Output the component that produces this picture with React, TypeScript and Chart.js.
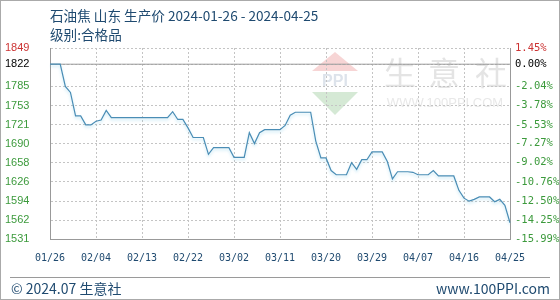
import React, { useEffect, useRef } from 'react';
import { Chart, registerables } from 'chart.js';

Chart.register(...registerables);

// ---- data ----
const startDate = '2024-01-26';
const prices = [
  1822, 1822, 1822, 1785, 1775, 1736, 1736, 1721, 1721, 1727,
  1729, 1745, 1733, 1733, 1733, 1733, 1733, 1733, 1733, 1733,
  1733, 1733, 1733, 1733, 1743, 1730, 1730, 1716, 1700, 1700,
  1700, 1672, 1683, 1683, 1683, 1683, 1667, 1667, 1667, 1708,
  1690, 1708, 1713, 1713, 1713, 1713, 1720, 1737, 1742, 1742,
  1742, 1742, 1694, 1666, 1666, 1645, 1638, 1638, 1638, 1658,
  1647, 1663, 1663, 1676, 1676, 1676, 1660, 1631, 1643, 1643,
  1643, 1642, 1638, 1638, 1638, 1645, 1636, 1636, 1636, 1636,
  1612, 1599, 1594, 1597, 1601, 1601, 1601, 1593, 1597, 1587,
  1558,
];
const basePrice = 1822;
const axisMin = 1531;
const axisMax = 1849;
const leftTickValues = [1849, 1822, 1785, 1753, 1721, 1690, 1658, 1626, 1594, 1562, 1531];
const rightTickLabels = ['1.45%', '0.00%', '-2.04%', '-3.78%', '-5.53%', '-7.27%', '-9.02%', '-10.76%', '-12.50%', '-14.25%', '-15.99%'];
const labelEvery = 9;

const titleText = '石油焦 山东 生产价 2024-01-26 - 2024-04-25';
const subtitleText = '级别:合格品';
const footerLeft = '© 2024.07 生意社';
const footerRight = 'www.100PPI.com';

function buildDates(start: string, n: number): string[] {
  const out: string[] = [];
  const [y, m, d] = start.split('-').map(Number);
  for (let i = 0; i < n; i++) {
    const dt = new Date(Date.UTC(y, m - 1, d + i));
    const mm = String(dt.getUTCMonth() + 1).padStart(2, '0');
    const dd = String(dt.getUTCDate()).padStart(2, '0');
    out.push(`${mm}/${dd}`);
  }
  return out;
}
const dates = buildDates(startDate, prices.length);

const RED = '#cc3333';
const GREEN = '#3c9a3c';
const BLUE_TEXT = '#1f4a70';
const tickColor = (ctx: any) => {
  const v = ctx.tick ? ctx.tick.value : 0;
  if (v > basePrice) return RED;
  if (v === basePrice) return '#000000';
  return GREEN;
};

const watermark = {
  id: 'watermark',
  beforeDraw(chart: any) {
    const { ctx } = chart;
    ctx.save();
    // logo
    ctx.fillStyle = 'rgba(235,150,150,0.4)';
    ctx.beginPath();
    ctx.moveTo(335, 52);
    ctx.lineTo(358, 71);
    ctx.lineTo(312, 71);
    ctx.closePath();
    ctx.fill();
    ctx.fillStyle = 'rgba(150,200,150,0.4)';
    ctx.beginPath();
    ctx.moveTo(312, 92);
    ctx.lineTo(358, 92);
    ctx.lineTo(335, 115);
    ctx.closePath();
    ctx.fill();
    ctx.fillStyle = 'rgba(170,185,205,0.4)';
    ctx.font = 'bold 16px "Liberation Sans", Arial';
    ctx.textAlign = 'center';
    ctx.textBaseline = 'middle';
    ctx.fillText('PPI', 335, 82);
    // text
    ctx.fillStyle = '#e4e4e4';
    ctx.font = '32px "Noto Sans CJK SC"';
    ctx.fillText('生', 400, 73);
    ctx.fillText('意', 444, 73);
    ctx.fillText('社', 491, 73);
    ctx.fillStyle = '#e8e8e8';
    ctx.font = '13px "Liberation Sans", Arial';
    ctx.fillText('WWW.100PPI.COM', 445, 103);
    ctx.restore();
  },
  beforeDatasetDraw(chart: any, args: any) {
    if (args.index === 0) {
      const { ctx } = chart;
      ctx.save();
      ctx.shadowColor = 'rgba(120,200,230,0.45)';
      ctx.shadowBlur = 3;
      ctx.shadowOffsetY = 2;
    }
  },
  afterDatasetDraw(chart: any, args: any) {
    if (args.index === 0) chart.ctx.restore();
  },
};

export default function App() {
  const ref = useRef<HTMLCanvasElement | null>(null);

  useEffect(() => {
    if (!ref.current) return;
    const sortedTicks = [...leftTickValues].sort((a, b) => a - b);
    const chart = new Chart(ref.current, {
      type: 'line',
      data: {
        labels: dates,
        datasets: [
          {
            label: 'price',
            data: prices,
            borderColor: '#4a8db5',
            borderWidth: 1.2,
            pointRadius: 0,
            tension: 0,
            fill: false,
            order: 1,
            yAxisID: 'y',
          },
          {
            label: 'base',
            data: prices.map(() => basePrice),
            borderColor: '#999999',
            borderWidth: 1,
            pointRadius: 0,
            tension: 0,
            fill: false,
            order: 2,
            yAxisID: 'y',
          },
        ],
      },
      options: {
        responsive: false,
        animation: false,
        events: [],
        layout: { padding: { left: 5, right: 0, top: 48, bottom: 0 } },
        plugins: { legend: { display: false }, tooltip: { enabled: false }, title: { display: false } },
        scales: {
          x: {
            type: 'category',
            offset: false,
            afterBuildTicks: (s: any) => {
              s.ticks = s.ticks.filter((_t: any, i: number) => i % labelEvery === 0);
            },
            afterFit: (s: any) => {
              s.height = 61;
            },
            grid: { color: '#c4c4c4', drawTicks: false, lineWidth: 1 },
            border: { display: true, color: '#999999', dash: [2, 2] },
            ticks: {
              autoSkip: false,
              maxRotation: 0,
              minRotation: 0,
              padding: 13,
              color: BLUE_TEXT,
              font: { family: '"DejaVu Sans Mono", monospace', size: 10 },
            },
          },
          y: {
            position: 'left',
            min: axisMin,
            max: axisMax,
            afterBuildTicks: (s: any) => {
              s.ticks = sortedTicks.map((v) => ({ value: v }));
            },
            afterFit: (s: any) => {
              s.width = 45;
            },
            grid: { color: '#c4c4c4', drawTicks: false, lineWidth: 1 },
            border: { display: true, color: '#999999', dash: [2, 2] },
            ticks: {
              autoSkip: false,
              crossAlign: 'far',
              padding: 5,
              color: tickColor,
              font: { family: '"Liberation Sans", Arial, sans-serif', size: 11 },
              callback: (v: any) => String(v),
            },
          },
          y2: {
            position: 'right',
            min: axisMin,
            max: axisMax,
            afterBuildTicks: (s: any) => {
              s.ticks = sortedTicks.map((v) => ({ value: v }));
            },
            afterFit: (s: any) => {
              s.width = 50;
            },
            grid: { drawOnChartArea: false, drawTicks: false },
            border: { display: true, color: '#999999' },
            ticks: {
              autoSkip: false,
              crossAlign: 'near',
              padding: 5,
              color: tickColor,
              font: { family: '"DejaVu Sans Mono", monospace', size: 10.5 },
              callback: (v: any) => rightTickLabels[leftTickValues.indexOf(Number(v))] ?? '',
            },
          },
        },
      },
      plugins: [watermark],
    });
    return () => chart.destroy();
  }, []);

  const textFont = '"Noto Sans CJK SC", "Noto Sans", sans-serif';
  return (
    <div style={{ position: 'fixed', left: 0, top: 0, width: 560, height: 300, background: '#fff', overflow: 'hidden' }}>
      <canvas ref={ref} width={560} height={300} style={{ position: 'absolute', left: 0, top: 0, width: 560, height: 300 }} />
      <div style={{ position: 'absolute', left: 50, top: 6, fontFamily: textFont, fontSize: 13.6, lineHeight: '18px', color: BLUE_TEXT, whiteSpace: 'nowrap' }}>{titleText}</div>
      <div style={{ position: 'absolute', left: 50, top: 25, fontFamily: textFont, fontSize: 13.6, lineHeight: '18px', color: BLUE_TEXT, whiteSpace: 'nowrap' }}>{subtitleText}</div>
      <div style={{ position: 'absolute', left: 10, width: 540, top: 277, height: 0, borderTop: '1px solid #9a9a9a' }} />
      <div style={{ position: 'absolute', left: 11, top: 279, fontFamily: textFont, fontSize: 14, lineHeight: '18px', color: BLUE_TEXT, whiteSpace: 'nowrap' }}>{footerLeft}</div>
      <div style={{ position: 'absolute', right: 10, top: 279, fontFamily: textFont, fontSize: 14, lineHeight: '18px', color: BLUE_TEXT, whiteSpace: 'nowrap' }}>{footerRight}</div>
      <div style={{ position: 'absolute', left: 0, top: 0, width: 560, height: 300, boxSizing: 'border-box', border: '1px solid #aaaaaa', pointerEvents: 'none' }} />
    </div>
  );
}
